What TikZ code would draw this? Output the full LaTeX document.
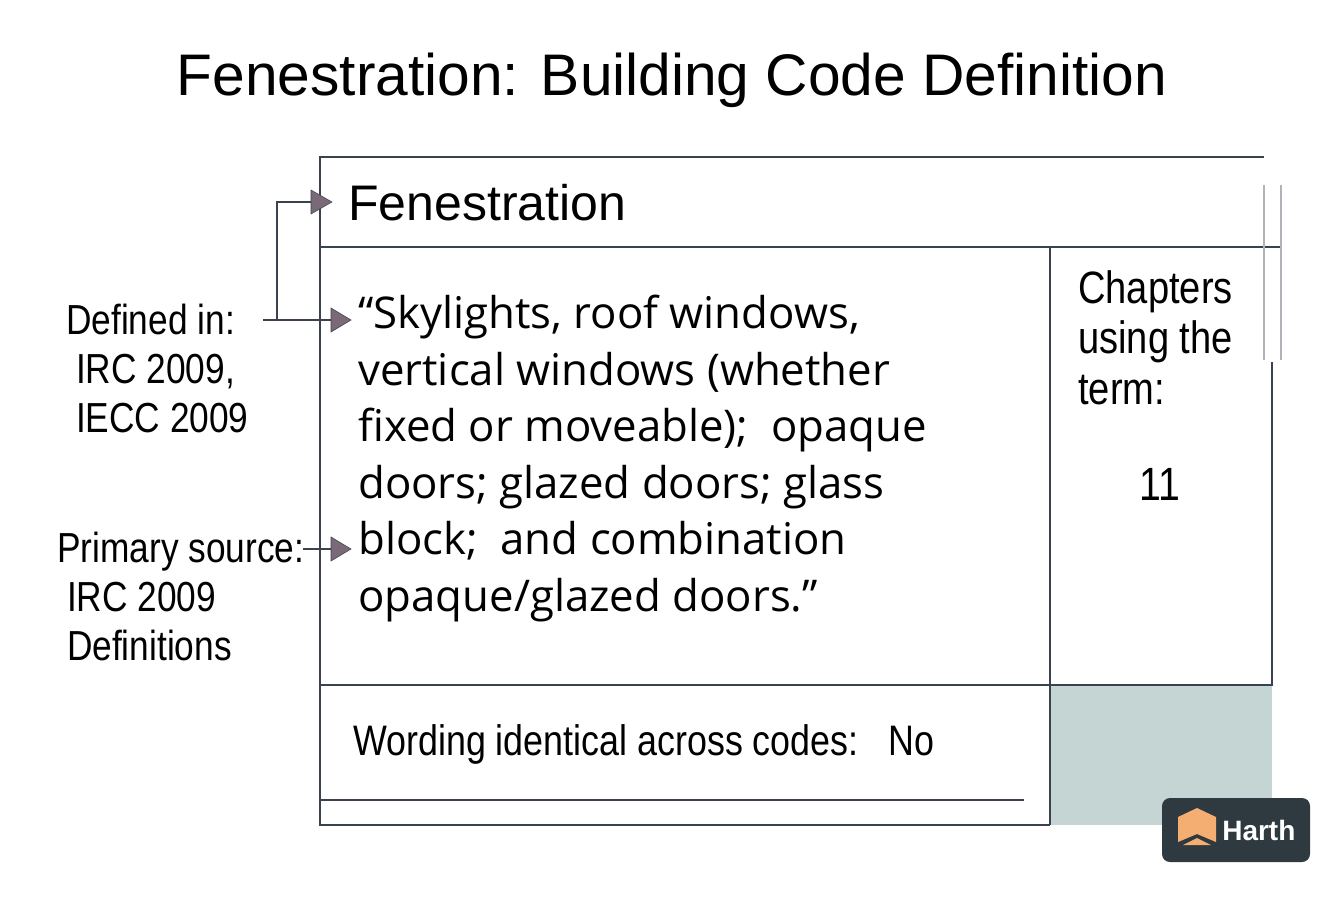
\documentclass[tikz,border=0pt]{standalone}
\usepackage{fontspec}
\setmainfont{Liberation Sans}
\newfontfamily\cond[FakeStretch=0.84]{Liberation Sans}
\newfontfamily\quotef{Open Sans}
\definecolor{ln}{HTML}{3A4250}
\definecolor{arr}{HTML}{7A6A78}
\definecolor{gfill}{HTML}{C5D5D3}
\definecolor{logo}{HTML}{2E3A40}
\definecolor{orng}{HTML}{F4AE72}
\begin{document}
\begin{tikzpicture}[x=0.75pt,y=-0.75pt,
  box/.style={draw=ln,line width=1.5pt},
  conn/.style={draw=ln,line width=1pt},
  tipa/.style={fill=arr,draw=ln,line width=0.4pt},
  lbl/.style={font=\cond\fontsize{31.5}{36.5}\selectfont,align=left,inner sep=0,anchor=north west},
  txt/.style={inner sep=0,anchor=west}]
\useasboundingbox (0,0) rectangle (1344,896);
\fill[white] (0,0) rectangle (1344,896);
\node[txt,anchor=center,font=\fontsize{44}{50}\selectfont] (title) at (672,80) {Fenestration: Building Code Definition};
\fill[gfill] (1050,685) rectangle (1272,825);
\draw[box] (1264,157) -- (320,157) -- (320,825) -- (1050,825);
\draw[box] (320,247) -- (1281,247);
\draw[box] (1050,247) -- (1050,825);
\draw[box] (1272,362) -- (1272,685) -- (320,685);
\draw[conn] (320,800) -- (1024,800);
\draw[draw=ln!40,line width=0.8pt] (1264,185) -- (1264,360) (1281,185) -- (1281,360);
\node[txt,font=\fontsize{37.5}{42}\selectfont] (head) at (348,203) {Fenestration};
\node[txt,anchor=north west,align=left,font=\quotef\fontsize{32.8}{42.4}\selectfont] (quote) at (358,295) {“Skylights, roof windows,\\vertical windows (whether\\fixed or moveable);\ \ opaque\\doors; glazed doors; glass\\block;\ \ and combination\\opaque/glazed doors.”};
\node[lbl,font=\cond\fontsize{34}{38}\selectfont] (chap) at (1078,270) {Chapters\\using the\\term:};
\node[txt,anchor=center,font=\cond\fontsize{35}{38}\selectfont] (num) at (1160,484) {11};
\node[txt,font=\cond\fontsize{32}{36}\selectfont] (word) at (353,744) {Wording identical across codes:\ \ \ No};
\node[lbl] (def) at (66,304) {Defined in:\\\ IRC 2009,\\\ IECC 2009};
\node[lbl] (prim) at (57,532) {Primary source:\\\ IRC 2009\\\ Definitions};
\coordinate (a1) at (263,320); \coordinate (a1e) at (333,320);
\coordinate (b1) at (277,320); \coordinate (b2) at (277,202); \coordinate (b3) at (313,202);
\coordinate (a2) at (303,549); \coordinate (a2e) at (333,549);
\draw[conn] (a1) -- (a1e);
\draw[conn] (b1) -- (b2) -- (b3);
\draw[conn] (a2) -- (a2e);
\draw[tipa] (331,308) -- (351,320) -- (331,332) -- cycle;
\draw[tipa] (311,190) -- (332,202) -- (311,214) -- cycle;
\draw[tipa] (331,537) -- (351,549) -- (331,561) -- cycle;
% logo
\fill[logo,rounded corners=6pt] (1162,798) rectangle (1310,862);
\fill[orng] (1178,817) -- (1197,808) -- (1197,834) -- (1178,842) -- cycle;
\fill[orng] (1197,808) -- (1216,817) -- (1216,842) -- (1197,834) -- cycle;
\fill[orng] (1183,845) -- (1197,838) -- (1211,845) -- cycle;
\node[txt,text=white,font=\bfseries\fontsize{21}{24}\selectfont] (logot) at (1222,830) {Harth};
\end{tikzpicture}
\end{document}
